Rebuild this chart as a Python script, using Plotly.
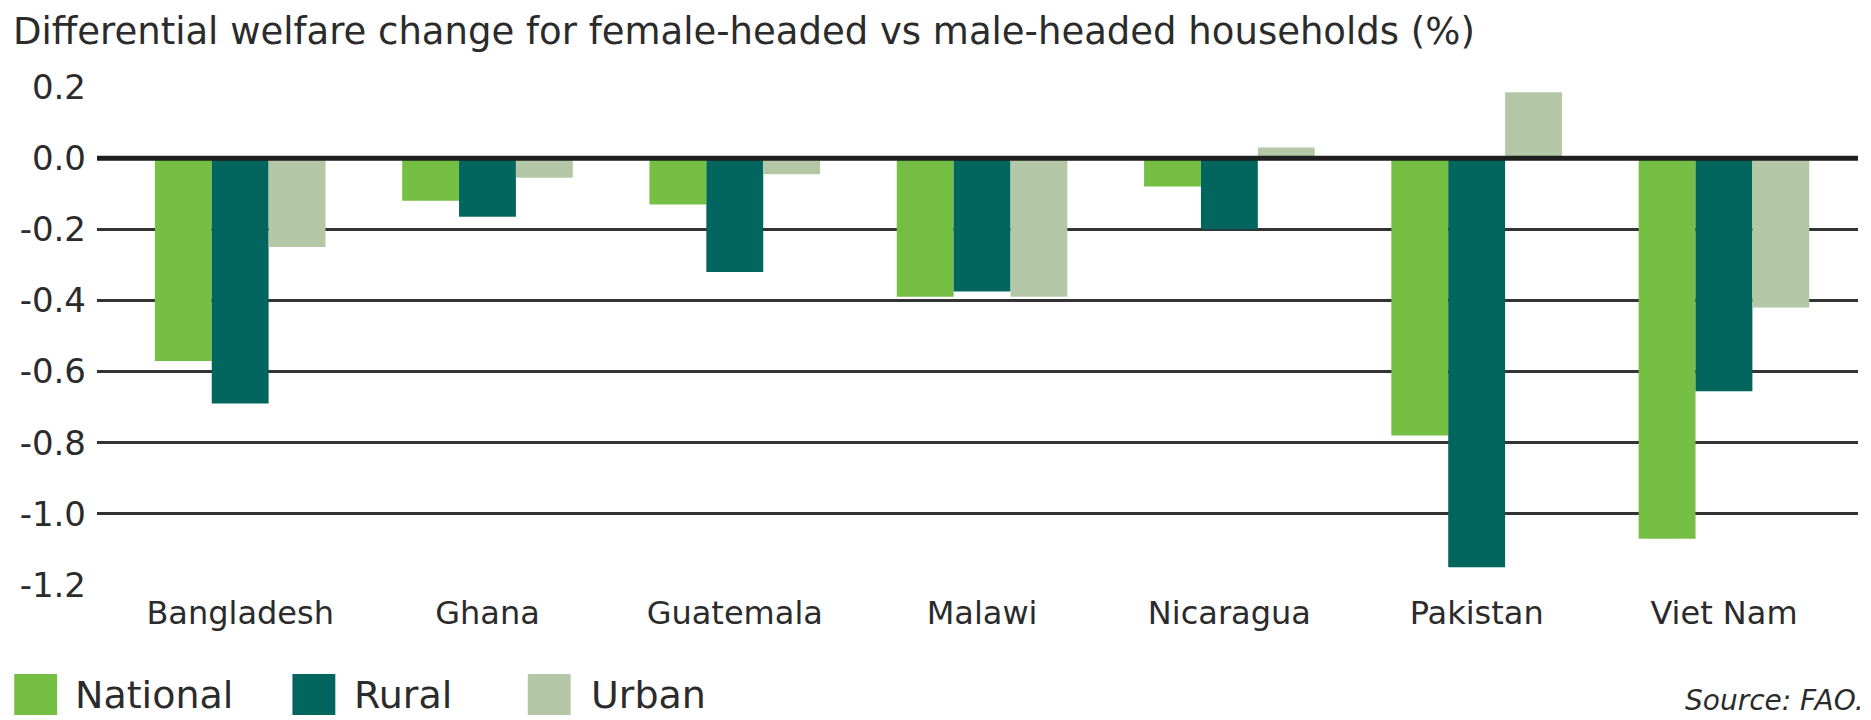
import plotly.graph_objects as go

countries = ["Bangladesh", "Ghana", "Guatemala", "Malawi", "Nicaragua", "Pakistan", "Viet Nam"]
national = [-0.57, -0.12, -0.13, -0.39, -0.08, -0.78, -1.07]
rural = [-0.69, -0.165, -0.32, -0.375, -0.20, -1.15, -0.655]
urban = [-0.25, -0.055, -0.045, -0.39, 0.03, 0.185, -0.42]
series_names = ["National", "Rural", "Urban"]
colors = ["#74BF44", "#02665E", "#B4C8A8"]
y_ticks = [0.2, 0.0, -0.2, -0.4, -0.6, -0.8, -1.0, -1.2]
y_tick_text = ["0.2", "0.0", "-0.2", "-0.4", "-0.6", "-0.8", "-1.0", "-1.2"]
title_text = "Differential welfare change for female-headed vs male-headed households (%)"
source_text = "Source: FAO."

OFF = 8  # page body margin of the browser
W, H = 1871 - OFF, 720 - OFF
L, T = 92 - OFF, 87 - OFF
R = W - (1858 - OFF)
B = H - (585 - OFF)
PW, PH = W - L - R, H - T - B
FONT = "DejaVu Sans"
TXT = "#2b2b2b"


def px(x):
    return (x - OFF - L) / PW


def py(y):
    return (H + OFF - B - y) / PH


fig = go.Figure()
for name, vals, col in zip(series_names, [national, rural, urban], colors):
    fig.add_trace(go.Bar(x=countries, y=vals, name=name, marker=dict(color=col, line=dict(width=0)),
                         showlegend=False))

fig.update_layout(
    width=W, height=H,
    margin=dict(l=L, r=R, t=T, b=B, pad=0),
    paper_bgcolor="white", plot_bgcolor="white",
    barmode="group", bargap=0.31, bargroupgap=0,
    font=dict(family=FONT, color=TXT),
    xaxis=dict(range=[-0.579, 6.542], showgrid=False, zeroline=False, showline=False,
               ticks="", tickfont=dict(size=32, color=TXT), ticklabelstandoff=6),
    yaxis=dict(range=[-1.2, 0.2], tickvals=y_ticks, ticktext=y_tick_text,
               showgrid=True, gridcolor="#333333", gridwidth=2.5,
               zeroline=False, showline=False, ticks="",
               tickfont=dict(size=34, color=TXT), ticklabelstandoff=10),
)

# emphasised zero line above bars
fig.add_shape(type="line", xref="paper", yref="y", x0=0, x1=1, y0=0, y1=0,
              line=dict(color="#1e1e1e", width=5), layer="above")

# title
fig.add_annotation(text=title_text, xref="paper", yref="paper", x=px(7), y=py(32),
                   xanchor="left", yanchor="middle", showarrow=False, borderpad=0,
                   font=dict(size=37, color=TXT, family=FONT))

# manual legend
legend_items = [(9, 68), (288, 348), (524, 585)]
for (sx, tx), name, col in zip(legend_items, series_names, colors):
    fig.add_shape(type="rect", xref="paper", yref="paper",
                  x0=px(sx), x1=px(sx + 43), y0=py(715), y1=py(674),
                  fillcolor=col, line=dict(width=0))
    fig.add_annotation(text=name, xref="paper", yref="paper", x=px(tx), y=py(695),
                       xanchor="left", yanchor="middle", showarrow=False,
                       font=dict(size=38, color=TXT, family=FONT))

fig.add_annotation(text="<i>" + source_text + "</i>", xref="paper", yref="paper",
                   x=px(1866), y=py(700), xanchor="right", yanchor="middle", showarrow=False,
                   font=dict(size=28, color=TXT, family=FONT))

fig.write_html("out.html")
